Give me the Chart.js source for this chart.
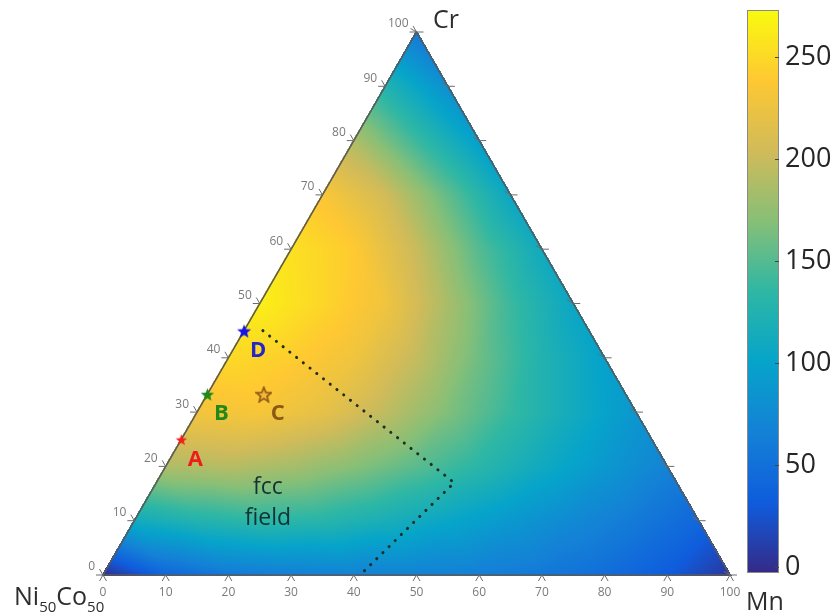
<!DOCTYPE html>
<html>
<head>
<meta charset="utf-8">
<title>Ternary map</title>
<script src="https://cdn.jsdelivr.net/npm/chart.js@4.4.0/dist/chart.umd.min.js"></script>
<style>
  body { margin: 0; background: #fff; }
  #wrap { width: 833px; height: 615px; }
</style>
</head>
<body>
<div id="wrap"><canvas id="ternary" width="833" height="615"></canvas></div>
<script>
"use strict";

// ticks on the triangle edges (at.%) and on the colorbar
const axisTicks = [0, 10, 20, 30, 40, 50, 60, 70, 80, 90, 100];
const colorTicks = [0, 50, 100, 150, 200, 250];
const colorMin = -3;
const colorMax = 273;

// map values, one row per Cr level, Mn = 0, 10, 20 ...
const cr0 = [0, 40, 58, 64, 67, 67, 64, 58, 48, 32, 5];
const cr10 = [112, 126, 134, 130, 118, 104, 89, 74, 59, 42];
const cr20 = [188, 192, 184, 170, 152, 132, 110, 89, 68];
const cr30 = [230, 233, 220, 196, 167, 138, 112, 88];
const cr40 = [250, 242, 228, 198, 160, 125, 98];
const cr50 = [265, 248, 228, 185, 140, 105];
const cr60 = [255, 240, 200, 150, 110];
const cr70 = [235, 205, 155, 105];
const cr80 = [188, 140, 95];
const cr90 = [125, 80];
const cr100 = [58];
const heatRows = [cr0, cr10, cr20, cr30, cr40, cr50, cr60, cr70, cr80, cr90, cr100];

// alloys A-D
const alloyNames = ["A", "B", "C", "D"];
const alloyCr = [25, 33.3, 33.3, 45];
const alloyMn = [0, 0, 9, 0];

// fcc field boundary
const fccCr = [45, 17, 0];
const fccMn = [3, 47.5, 41];

const SQ = Math.sqrt(3) / 2;
const FONT = "'Open Sans', 'DejaVu Sans', sans-serif";

function toXY(cr, mn) {
    return { x: mn + cr / 2, y: cr * SQ };
}

// parula-like colormap
const parulaStops = ["#352a87", "#0f5cdd", "#1481d6", "#06a4ca", "#2eb7a4",
                     "#87bf77", "#d1bb59", "#fec832", "#f9fb0e"].map(function (h) {
    return [parseInt(h.substr(1, 2), 16), parseInt(h.substr(3, 2), 16), parseInt(h.substr(5, 2), 16)];
});

function colorAt(v) {
    let t = (v - colorMin) / (colorMax - colorMin);
    t = Math.max(0, Math.min(1, t)) * (parulaStops.length - 1);
    const k = Math.min(Math.floor(t), parulaStops.length - 2);
    const f = t - k;
    const a = parulaStops[k], b = parulaStops[k + 1];
    return [a[0] + (b[0] - a[0]) * f, a[1] + (b[1] - a[1]) * f, a[2] + (b[2] - a[2]) * f];
}

// value inside the triangular grid cell
function sampleHeat(cr, mn) {
    const fi = cr / 10, fj = mn / 10;
    const i0 = Math.min(Math.floor(fi), 9);
    const j0 = Math.min(Math.floor(fj), 9 - i0);
    const u = fi - i0, w = fj - j0;
    const v = function (i, j) { return heatRows[i][j]; };
    if (u + w <= 1 || i0 + j0 >= 9) {
        return v(i0, j0) * (1 - u - w) + v(i0 + 1, j0) * u + v(i0, j0 + 1) * w;
    }
    const a = 1 - u, b = 1 - w;
    return v(i0 + 1, j0 + 1) * (1 - a - b) + v(i0, j0 + 1) * a + v(i0 + 1, j0) * b;
}

function starCanvas(fill, stroke, size, lw) {
    const cv = document.createElement("canvas");
    cv.width = cv.height = size;
    const g = cv.getContext("2d");
    g.beginPath();
    for (let k = 0; k < 10; k++) {
        const r = k % 2 ? size * 0.2 : size * 0.46;
        const a = -Math.PI / 2 + k * Math.PI / 5;
        const px = size / 2 + r * Math.cos(a), py = size / 2 + 1 + r * Math.sin(a);
        if (k === 0) g.moveTo(px, py); else g.lineTo(px, py);
    }
    g.closePath();
    g.fillStyle = fill;
    g.fill();
    if (stroke) {
        g.strokeStyle = stroke;
        g.lineWidth = lw;
        g.stroke();
    }
    return cv;
}

const alloyStyles = [
    { color: "#ee1d1d", star: starCanvas("#f0201c", null, 13, 0) },
    { color: "#23881c", star: starCanvas("#1f8a1c", null, 15, 0) },
    { color: "#8a5a12", star: starCanvas("rgba(240,170,60,0.6)", "#8a5512", 17, 1.6) },
    { color: "#2626c4", star: starCanvas("#1414e6", null, 16, 0) }
];

const heatmapPlugin = {
    id: "heatmap",
    beforeDatasetsDraw(chart) {
        const ctx = chart.ctx;
        const xs = chart.scales.x, ys = chart.scales.y;
        const left = Math.floor(xs.getPixelForValue(0)) - 1;
        const right = Math.ceil(xs.getPixelForValue(100)) + 1;
        const top = Math.floor(ys.getPixelForValue(100 * SQ)) - 1;
        const bottom = Math.ceil(ys.getPixelForValue(0)) + 1;
        const w = right - left + 1, h = bottom - top + 1;
        const img = ctx.getImageData(left, top, w, h);
        for (let j = 0; j < h; j++) {
            const cr = ys.getValueForPixel(top + j + 0.5) / SQ;
            for (let i = 0; i < w; i++) {
                const mn = xs.getValueForPixel(left + i + 0.5) - cr / 2;
                if (cr < -0.2 || mn < -0.2 || cr + mn > 100.2) continue;
                const c = Math.max(0, Math.min(100, cr));
                const m = Math.max(0, Math.min(100 - c, mn));
                const col = colorAt(sampleHeat(c, m));
                const p = (j * w + i) * 4;
                img.data[p] = col[0];
                img.data[p + 1] = col[1];
                img.data[p + 2] = col[2];
                img.data[p + 3] = 255;
            }
        }
        ctx.putImageData(img, left, top);

        // triangle outline and ticks
        const P = function (cr, mn) {
            const q = toXY(cr, mn);
            return [xs.getPixelForValue(q.x), ys.getPixelForValue(q.y)];
        };
        ctx.save();
        ctx.strokeStyle = "#5a5a5a";
        ctx.lineWidth = 1.5;
        ctx.beginPath();
        const a = P(0, 0), b = P(0, 100), c = P(100, 0);
        ctx.moveTo(a[0], a[1]);
        ctx.lineTo(b[0], b[1]);
        ctx.lineTo(c[0], c[1]);
        ctx.closePath();
        ctx.stroke();

        ctx.strokeStyle = "#6c6c6c";
        ctx.lineWidth = 1;
        ctx.fillStyle = "#7a7a7a";
        ctx.font = "12px " + FONT;
        axisTicks.forEach(function (t) {
            // bottom edge (Mn)
            let p = P(0, t);
            ctx.beginPath();
            ctx.moveTo(p[0] - 3.5, p[1] + 6);
            ctx.lineTo(p[0], p[1]);
            ctx.lineTo(p[0] + 3.5, p[1] + 6);
            ctx.stroke();
            ctx.textAlign = "center";
            ctx.textBaseline = "middle";
            ctx.fillText(String(t), p[0], p[1] + 18);

            // left edge (Cr)
            p = P(t, 0);
            ctx.beginPath();
            ctx.moveTo(p[0] - 3.5, p[1] - 6);
            ctx.lineTo(p[0], p[1]);
            ctx.lineTo(p[0] - 7, p[1]);
            ctx.stroke();
            ctx.textAlign = "right";
            ctx.fillText(String(t), p[0] - 8, p[1] - 8);

            // right edge
            p = P(t, 100 - t);
            ctx.beginPath();
            ctx.moveTo(p[0] - 6, p[1] - 3.5);
            ctx.lineTo(p[0], p[1]);
            ctx.lineTo(p[0] + 7, p[1]);
            ctx.stroke();
        });
        ctx.restore();
    },
    afterDraw(chart) {
        const ctx = chart.ctx;
        const xs = chart.scales.x, ys = chart.scales.y;
        ctx.save();

        // alloy letters
        ctx.font = "bold 22px " + FONT;
        ctx.textAlign = "center";
        ctx.textBaseline = "middle";
        alloyNames.forEach(function (name, k) {
            const q = toXY(alloyCr[k], alloyMn[k]);
            ctx.fillStyle = alloyStyles[k].color;
            ctx.fillText(name, xs.getPixelForValue(q.x) + 14, ys.getPixelForValue(q.y) + 20);
        });

        // fcc field label
        ctx.font = "23px " + FONT;
        ctx.fillStyle = "rgba(12,38,44,0.92)";
        const fx = xs.getPixelForValue(26.3);
        ctx.fillText("fcc", fx, ys.getPixelForValue(14.0));
        ctx.fillText("field", fx, ys.getPixelForValue(9.0));

        // corner labels
        ctx.fillStyle = "#2e2e2e";
        ctx.textAlign = "left";
        ctx.textBaseline = "alphabetic";
        ctx.font = "25px " + FONT;
        ctx.fillText("Cr", 433, 28);
        ctx.fillText("Mn", 746, 610);
        let x0 = 14;
        [["Ni", false], ["50", true], ["Co", false], ["50", true]].forEach(function (part) {
            ctx.font = (part[1] ? "15px " : "25px ") + FONT;
            ctx.fillText(part[0], x0, part[1] ? 612 : 605);
            x0 += ctx.measureText(part[0]).width;
        });

        // colorbar
        const barL = 747, barR = 779, barT = 10, barB = 573;
        const vy = function (v) { return barB - (v - colorMin) / (colorMax - colorMin) * (barB - barT); };
        for (let yy = barT; yy < barB; yy++) {
            const col = colorAt(colorMin + (barB - yy - 0.5) / (barB - barT) * (colorMax - colorMin));
            ctx.fillStyle = "rgb(" + col.map(Math.round).join(",") + ")";
            ctx.fillRect(barL, yy, barR - barL, 1);
        }
        ctx.strokeStyle = "#8a8a8a";
        ctx.lineWidth = 1;
        ctx.strokeRect(barL + 0.5, barT + 0.5, barR - barL - 1, barB - barT - 1);
        ctx.font = "27px " + FONT;
        ctx.fillStyle = "#262626";
        ctx.textBaseline = "middle";
        colorTicks.forEach(function (v) {
            const ty = Math.round(vy(v)) + 0.5;
            ctx.strokeStyle = "#444";
            ctx.beginPath();
            ctx.moveTo(barR - 4, ty);
            ctx.lineTo(barR, ty);
            ctx.stroke();
            ctx.fillText(String(v), 785, ty);
        });
        ctx.restore();
    }
};

const datasets = [{
    data: fccCr.map(function (c, k) { return toXY(c, fccMn[k]); }),
    showLine: true,
    borderColor: "#1d2e22",
    borderWidth: 3,
    borderDash: [0.1, 8.5],
    borderCapStyle: "round",
    pointRadius: 0,
    clip: false
}];
alloyNames.forEach(function (name, k) {
    datasets.push({
        label: name,
        data: [toXY(alloyCr[k], alloyMn[k])],
        pointStyle: alloyStyles[k].star,
        pointRadius: 7,
        clip: false
    });
});

new Chart(document.getElementById("ternary"), {
    type: "scatter",
    data: { datasets: datasets },
    options: {
        responsive: false,
        animation: false,
        layout: { padding: { left: 103, right: 103, top: 32, bottom: 40 } },
        scales: {
            x: { type: "linear", min: 0, max: 100, display: false },
            y: { type: "linear", min: 0, max: 100 * SQ, display: false }
        },
        plugins: {
            legend: { display: false },
            tooltip: { enabled: false }
        }
    },
    plugins: [heatmapPlugin]
});
</script>
</body>
</html>
